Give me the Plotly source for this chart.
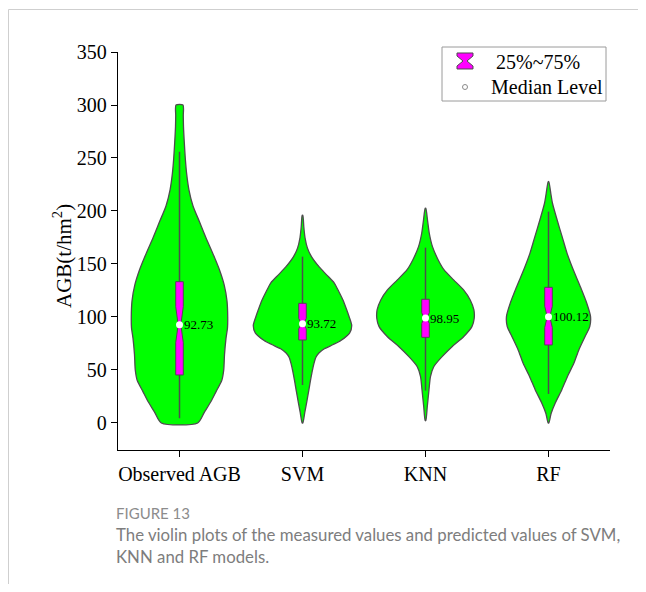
import plotly.graph_objects as go

# ---------------- data ----------------
categories = ["Observed AGB", "SVM", "KNN", "RF"]
medians = [92.73, 93.72, 98.95, 100.12]
q1 = [45.3, 78.3, 80.8, 73.6]
q3 = [133.3, 112.9, 116.7, 128.0]
whisker_low = [4.4, 35.8, 30.5, 27.4]
whisker_high = [256.0, 156.9, 165.4, 199.4]
notch_half = [17.0, 5.0, 5.0, 10.0]

# density profiles: AGB level -> relative density (kernel width)
obs_levels = [300, 290, 280, 265, 250, 235, 220, 205, 190, 175, 160, 145, 130, 115, 100, 90, 80, 65, 50, 40, 30, 20, 10, 0]
obs_density = [3.5, 3.8, 4.0, 4.8, 5.8, 7.2, 9.5, 13.5, 20, 26.5, 33.5, 40, 45, 47.8, 48.5, 48.3, 46.8, 45.3, 44.5, 42.5, 37, 31.5, 25, 18.3]

svm_levels = [196, 185, 175, 165, 157, 147, 140, 132, 124, 116, 108, 100, 92, 85, 78, 74, 70, 66, 62, 53, 40, 30, 20, 10, 0]
svm_density = [0.3, 1.3, 2.5, 5, 9, 17, 24, 32, 36.5, 40.7, 44, 47, 49.5, 47.5, 39, 31, 22, 16.5, 13.5, 10.7, 8, 6.2, 4.3, 2.3, 0.3]

knn_levels = [202.5, 191.5, 179, 166.4, 153.8, 144.4, 135, 125.5, 116, 106.6, 98.7, 90.9, 81.4, 72, 62.6, 53.1, 43.7, 31.2, 15.5, 2.2]
knn_density = [0.3, 2, 3.8, 7, 12.8, 18.7, 28.3, 38.3, 45, 48.7, 49, 46.7, 38.3, 26.7, 16.7, 8.3, 5, 3.5, 1.8, 0.3]

rf_levels = [227.7, 216.7, 207.3, 191.5, 175.8, 160, 144.3, 128.6, 112.9, 100.3, 90.9, 81.4, 68.9, 56.3, 43.7, 31.2, 18.6, 9.2, 0]
rf_density = [0.3, 2.3, 4, 8.7, 13.7, 18.7, 25, 32, 38.5, 42.3, 41.5, 36.7, 30.5, 25.5, 19, 13.3, 6.7, 2.7, 0.3]

profiles = [(obs_levels, obs_density), (svm_levels, svm_density),
            (knn_levels, knn_density), (rf_levels, rf_density)]

y_ticks = [0, 50, 100, 150, 200, 250, 300, 350]

# ---------------- style / layout constants ----------------
OFF = 8                      # default page body margin
W, H = 646 - 2 * OFF, 592 - 2 * OFF
L, R, T, B = 118 - OFF, 610 - OFF, 52 - OFF, 450 - OFF
VIOLIN_MAX_HALF = 0.40       # x-units for the largest density
BOX_HALF = 0.031
NOTCH_RATIO = 0.35
SERIF = "Liberation Serif, Times New Roman, serif"
SANS = "Lato, sans-serif"
GREEN = "#00FF00"
MAGENTA = "#FF00FF"
OUTLINE = "#4d4d4d"

def px(x):
    """page pixel x -> paper coordinate"""
    return (x - OFF - L) / (R - L)

def py(y):
    """page pixel y -> paper coordinate"""
    return (B - (y - OFF)) / (B - T)

max_density = max(max(d) for _, d in profiles)
scale = VIOLIN_MAX_HALF / max_density

fig = go.Figure()

for i, (levels, dens) in enumerate(profiles):
    left_x = [i - d * scale for d in dens]
    right_x = [i + d * scale for d in dens]
    xs = left_x + right_x[::-1] + [left_x[0]]
    ys = list(levels) + list(levels)[::-1] + [levels[0]]
    fig.add_trace(go.Scatter(
        x=xs, y=ys, mode="lines", fill="toself", fillcolor=GREEN,
        line=dict(color=OUTLINE, width=1.3, shape="spline", smoothing=0.7),
        hoverinfo="skip", showlegend=False))

for i in range(len(categories)):
    fig.add_trace(go.Scatter(
        x=[i, i], y=[whisker_low[i], whisker_high[i]], mode="lines",
        line=dict(color=OUTLINE, width=1.5), hoverinfo="skip", showlegend=False))
    m, n = medians[i], notch_half[i]
    w, wr = BOX_HALF, BOX_HALF * NOTCH_RATIO
    bx = [i - w, i + w, i + w, i + wr, i + w, i + w, i - w, i - w, i - wr, i - w, i - w]
    by = [q1[i], q1[i], m - n, m, m + n, q3[i], q3[i], m + n, m, m - n, q1[i]]
    fig.add_trace(go.Scatter(
        x=bx, y=by, mode="lines", fill="toself", fillcolor=MAGENTA,
        line=dict(color=OUTLINE, width=1), hoverinfo="skip", showlegend=False))
    fig.add_trace(go.Scatter(
        x=[i], y=[m], mode="markers",
        marker=dict(color="white", size=7, line=dict(width=0)),
        hoverinfo="skip", showlegend=False))
    fig.add_annotation(x=i, y=m, xref="x", yref="y", text=f"{m:.2f}",
                       showarrow=False, xanchor="left", yanchor="middle",
                       xshift=2, font=dict(family=SERIF, size=13, color="black"))

# y-axis title
fig.add_annotation(x=px(62), y=py(256), xref="paper", yref="paper",
                   text="AGB(t/hm<sup>2</sup>)", textangle=-90, showarrow=False,
                   xanchor="center", yanchor="middle",
                   font=dict(family=SERIF, size=21, color="black"))

# legend (drawn by hand)
shapes = []
shapes.append(dict(type="rect", xref="paper", yref="paper",
                   x0=px(442), x1=px(606), y0=py(101), y1=py(47),
                   line=dict(color="#9a9a9a", width=1), fillcolor="white", layer="above"))
hg = [(457, 53), (473, 53), (473, 56), (467, 61), (473, 66), (473, 69),
      (457, 69), (457, 66), (463, 61), (457, 56)]
path = "M " + " L ".join(f"{px(a):.5f},{py(b):.5f}" for a, b in hg) + " Z"
shapes.append(dict(type="path", xref="paper", yref="paper", path=path,
                   fillcolor=MAGENTA, line=dict(color=OUTLINE, width=1), layer="above"))
shapes.append(dict(type="circle", xref="paper", yref="paper",
                   x0=px(462.5), x1=px(467.5), y0=py(89.5), y1=py(84.5),
                   fillcolor="white", line=dict(color="#8a8a8a", width=1), layer="above"))
# card border (top and left)
shapes.append(dict(type="line", xref="paper", yref="paper",
                   x0=px(8.5), x1=px(646), y0=py(9.5), y1=py(9.5),
                   line=dict(color="#cfcfcf", width=1)))
shapes.append(dict(type="line", xref="paper", yref="paper",
                   x0=px(8.5), x1=px(8.5), y0=py(9.5), y1=py(592),
                   line=dict(color="#cfcfcf", width=1)))

fig.add_annotation(x=px(494), y=py(62), xref="paper", yref="paper", text="25%~75%",
                   showarrow=False, xanchor="left", yanchor="middle",
                   font=dict(family=SERIF, size=20, color="black"))
fig.add_annotation(x=px(489), y=py(87), xref="paper", yref="paper", text="Median Level",
                   showarrow=False, xanchor="left", yanchor="middle",
                   font=dict(family=SERIF, size=20, color="black"))

# caption
fig.add_annotation(x=px(114), y=py(513), xref="paper", yref="paper", text="FIGURE 13",
                   showarrow=False, xanchor="left", yanchor="middle",
                   font=dict(family=SANS, size=15, color="#8c8c8c"))
fig.add_annotation(x=px(114), y=py(534), xref="paper", yref="paper",
                   text="The violin plots of the measured values and predicted values of SVM,",
                   showarrow=False, xanchor="left", yanchor="middle",
                   font=dict(family=SANS, size=16.8, color="#7d7d7d"))
fig.add_annotation(x=px(114), y=py(556), xref="paper", yref="paper",
                   text="KNN and RF models.",
                   showarrow=False, xanchor="left", yanchor="middle",
                   font=dict(family=SANS, size=16.8, color="#7d7d7d"))

fig.update_layout(
    width=W, height=H,
    margin=dict(l=L, r=W - R, t=T, b=H - B, pad=0),
    paper_bgcolor="white", plot_bgcolor="white",
    showlegend=False, shapes=shapes,
    xaxis=dict(range=[-0.5, 3.5], tickvals=list(range(len(categories))),
               ticktext=categories, showgrid=False, zeroline=False,
               showline=True, linecolor="black", linewidth=1.3,
               ticks="outside", ticklen=6, tickwidth=1.3, tickcolor="black",
               tickfont=dict(family=SERIF, size=20, color="black")),
    yaxis=dict(range=[-25.5, 350], tickvals=y_ticks, showgrid=False, zeroline=False,
               showline=True, linecolor="black", linewidth=1.3,
               ticks="outside", ticklen=6, tickwidth=1.3, tickcolor="black",
               tickfont=dict(family=SERIF, size=20, color="black")),
)

fig.write_html("out.html")
